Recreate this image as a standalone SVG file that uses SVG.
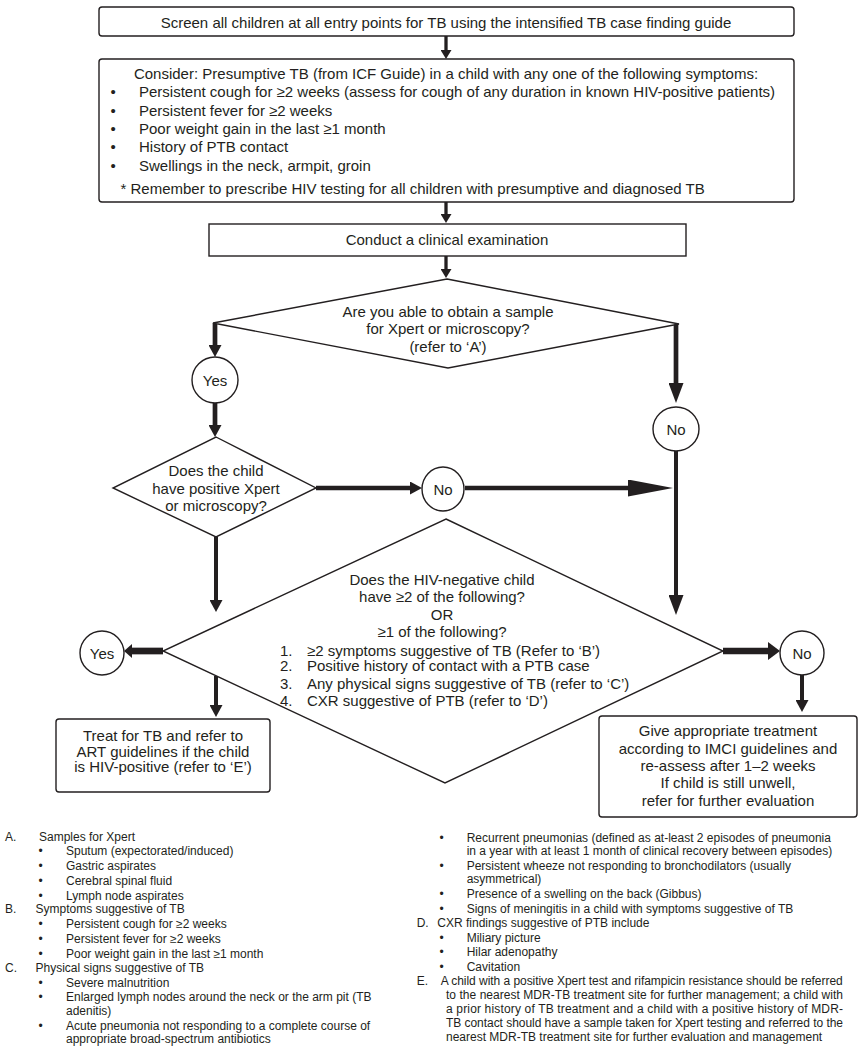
<svg xmlns="http://www.w3.org/2000/svg" width="865" height="1050" viewBox="0 0 865 1050">
<style>
.bx{fill:#fff;stroke:#231f20;stroke-width:1.4}
.t{font-family:"Liberation Sans",Arial,sans-serif;font-size:15px;fill:#231f20}
.m{text-anchor:middle}
.n{font-family:"Liberation Sans",Arial,sans-serif;font-size:12px;fill:#231f20}
.c{stroke:#231f20;fill:none}
.hd{fill:#231f20}
</style>
<defs>
<marker id="hA" markerUnits="userSpaceOnUse" markerWidth="9" markerHeight="11" refX="1" refY="5.5" orient="auto"><path class="hd" d="M0,0 L9,5.5 L0,11 Z"/></marker>
<marker id="hB" markerUnits="userSpaceOnUse" markerWidth="12" markerHeight="13" refX="1" refY="6.5" orient="auto"><path class="hd" d="M0,0 L12,6.5 L0,13 Z"/></marker>
<marker id="hC" markerUnits="userSpaceOnUse" markerWidth="20" markerHeight="15" refX="1" refY="7.5" orient="auto"><path class="hd" d="M0,0 L20,7.5 L0,15 Z"/></marker>
<marker id="hD" markerUnits="userSpaceOnUse" markerWidth="45" markerHeight="17" refX="1" refY="8.5" orient="auto"><path class="hd" d="M0,0 L45,8.5 L0,17 Z"/></marker>
<marker id="hE" markerUnits="userSpaceOnUse" markerWidth="8" markerHeight="14" refX="1" refY="7" orient="auto"><path class="hd" d="M0,0 L8,7 L0,14 Z"/></marker>
<marker id="hF" markerUnits="userSpaceOnUse" markerWidth="12" markerHeight="18" refX="1" refY="9" orient="auto"><path class="hd" d="M0,0 L12,9 L0,18 Z"/></marker>
</defs>
<rect width="865" height="1050" fill="#fff"/>

<g id="connectors">
<path class="c" stroke-width="3.3" marker-end="url(#hA)" d="M446,36 V51"/>
<path class="c" stroke-width="3.3" marker-end="url(#hA)" d="M446,202 V215"/>
<path class="c" stroke-width="3.3" marker-end="url(#hA)" d="M446,256 V270"/>
<path class="c" stroke-width="4.7" marker-end="url(#hB)" d="M215,323 V346"/>
<path class="c" stroke-width="4.7" marker-end="url(#hC)" d="M676,324 V384"/>
<path class="c" stroke-width="4.7" marker-end="url(#hB)" d="M215,403 V426"/>
<path class="c" stroke-width="4.7" marker-end="url(#hB)" d="M316,488 H411"/>
<path class="c" stroke-width="4.5" marker-end="url(#hD)" d="M465,488 H629"/>
<path class="c" stroke-width="4" marker-end="url(#hC)" d="M676,451 V596"/>
<path class="c" stroke-width="4" marker-end="url(#hB)" d="M216,537 V601"/>
<path class="c" stroke-width="6.7" marker-end="url(#hE)" d="M163,651 H131"/>
<path class="c" stroke-width="4" marker-end="url(#hB)" d="M216,676 V706"/>
<path class="c" stroke-width="6.7" marker-end="url(#hF)" d="M723,651 H769"/>
<path class="c" stroke-width="4" marker-end="url(#hB)" d="M802,675 V701"/>
</g>

<g id="screen">
<rect class="bx" x="99" y="7" width="695" height="29" rx="3"/>
<text class="t m" x="446" y="27.5">Screen all children at all entry points for TB using the intensified TB case finding guide</text>
</g>

<g id="consider">
<rect class="bx" x="99" y="59" width="695" height="143" rx="3"/>
<text class="t m" x="446" y="79">Consider: Presumptive TB (from ICF Guide) in a child with any one of the following symptoms:</text>
<text class="t" x="110.5" y="97">•</text><text class="t" x="139" y="97">Persistent cough for ≥2 weeks (assess for cough of any duration in known HIV-positive patients)</text>
<text class="t" x="110.5" y="115.5">•</text><text class="t" x="139" y="115.5">Persistent fever for ≥2 weeks</text>
<text class="t" x="110.5" y="133.5">•</text><text class="t" x="139" y="133.5">Poor weight gain in the last ≥1 month</text>
<text class="t" x="110.5" y="152">•</text><text class="t" x="139" y="152">History of PTB contact</text>
<text class="t" x="110.5" y="170.5">•</text><text class="t" x="139" y="170.5">Swellings in the neck, armpit, groin</text>
<text class="t" x="120.5" y="194">* Remember to prescribe HIV testing for all children with presumptive and diagnosed TB</text>
</g>

<g id="exam">
<rect class="bx" x="209" y="224" width="477" height="32"/>
<text class="t m" x="447" y="245">Conduct a clinical examination</text>
</g>

<g id="d-sample">
<polygon class="bx" points="447,279 679,324 448,368 213,323"/>
<text class="t m" x="448" y="316.5">Are you able to obtain a sample</text>
<text class="t m" x="448" y="334">for Xpert or microscopy?</text>
<text class="t m" x="448" y="351.5">(refer to ‘A’)</text>
</g>

<g id="yes1">
<ellipse class="bx" cx="215" cy="380" rx="23" ry="23"/>
<text class="t m" x="215" y="385.5">Yes</text>
</g>

<g id="no1">
<ellipse class="bx" cx="676" cy="429" rx="23" ry="22"/>
<text class="t m" x="676" y="434.5">No</text>
</g>

<g id="d-positive">
<polygon class="bx" points="216,437 316,488 216,537 113,488"/>
<text class="t m" x="216" y="476">Does the child</text>
<text class="t m" x="216" y="493.5">have positive Xpert</text>
<text class="t m" x="216" y="511">or microscopy?</text>
</g>

<g id="no-mid">
<ellipse class="bx" cx="443" cy="489" rx="21" ry="22"/>
<text class="t m" x="443" y="494.5">No</text>
</g>

<g id="d-hivneg">
<polygon class="bx" points="446,519 723,651 445,783 163,651"/>
<text class="t m" x="442" y="584.5">Does the HIV-negative child</text>
<text class="t m" x="442" y="602">have ≥2 of the following?</text>
<text class="t m" x="442" y="619.5">OR</text>
<text class="t m" x="442" y="637">≥1 of the following?</text>
<text class="t" x="280" y="655.5">1.</text><text class="t" x="307" y="655.5">≥2 symptoms suggestive of TB (Refer to ‘B’)</text>
<text class="t" x="280" y="671">2.</text><text class="t" x="307" y="671">Positive history of contact with a PTB case</text>
<text class="t" x="280" y="688.5">3.</text><text class="t" x="307" y="688.5">Any physical signs suggestive of TB (refer to ‘C’)</text>
<text class="t" x="280" y="706">4.</text><text class="t" x="307" y="706">CXR suggestive of PTB (refer to ‘D’)</text>
</g>

<g id="yes2">
<ellipse class="bx" cx="102" cy="653" rx="22" ry="22"/>
<text class="t m" x="102" y="658.5">Yes</text>
</g>

<g id="no2">
<ellipse class="bx" cx="802" cy="653" rx="22" ry="22"/>
<text class="t m" x="802" y="658.5">No</text>
</g>

<g id="treat">
<rect class="bx" x="56" y="719" width="214" height="73" rx="3"/>
<text class="t m" x="163" y="740.5">Treat for TB and refer to</text>
<text class="t m" x="163" y="756.5">ART guidelines if the child</text>
<text class="t m" x="163" y="772">is HIV-positive (refer to ‘E’)</text>
</g>

<g id="give">
<rect class="bx" x="599" y="716" width="258" height="101" rx="3"/>
<text class="t m" x="728" y="736">Give appropriate treatment</text>
<text class="t m" x="728" y="753.5">according to IMCI guidelines and</text>
<text class="t m" x="728" y="770.5">re-assess after 1–2 weeks</text>
<text class="t m" x="728" y="788">If child is still unwell,</text>
<text class="t m" x="728" y="805.5">refer for further evaluation</text>
</g>

<g id="notes">
<text class="n" x="5" y="841">A.</text><text class="n" x="39" y="841">Samples for Xpert</text>
<text class="n" x="38.5" y="855">•</text><text class="n" x="66" y="855">Sputum (expectorated/induced)</text>
<text class="n" x="38.5" y="870">•</text><text class="n" x="66" y="870">Gastric aspirates</text>
<text class="n" x="38.5" y="885">•</text><text class="n" x="66" y="885">Cerebral spinal fluid</text>
<text class="n" x="38.5" y="900">•</text><text class="n" x="66" y="900">Lymph node aspirates</text>
<text class="n" x="5" y="913">B.</text><text class="n" x="35.5" y="913">Symptoms suggestive of TB</text>
<text class="n" x="38.5" y="928">•</text><text class="n" x="66" y="928">Persistent cough for ≥2 weeks</text>
<text class="n" x="38.5" y="943">•</text><text class="n" x="66" y="943">Persistent fever for ≥2 weeks</text>
<text class="n" x="38.5" y="958">•</text><text class="n" x="66" y="958">Poor weight gain in the last ≥1 month</text>
<text class="n" x="5" y="972">C.</text><text class="n" x="35.5" y="972">Physical signs suggestive of TB</text>
<text class="n" x="38.5" y="986.5">•</text><text class="n" x="66" y="986.5">Severe malnutrition</text>
<text class="n" x="38.5" y="1001">•</text><text class="n" x="66" y="1001">Enlarged lymph nodes around the neck or the arm pit (TB</text>
<text class="n" x="66" y="1014.5">adenitis)</text>
<text class="n" x="38.5" y="1030">•</text><text class="n" x="66" y="1030">Acute pneumonia not responding to a complete course of</text>
<text class="n" x="66" y="1043">appropriate broad-spectrum antibiotics</text>

<text class="n" x="439.5" y="841.5">•</text><text class="n" x="466.7" y="841.5">Recurrent pneumonias (defined as at-least 2 episodes of pneumonia</text>
<text class="n" x="466.7" y="855">in a year with at least 1 month of clinical recovery between episodes)</text>
<text class="n" x="439.5" y="870">•</text><text class="n" x="466.7" y="870">Persistent wheeze not responding to bronchodilators (usually</text>
<text class="n" x="466.7" y="883">asymmetrical)</text>
<text class="n" x="439.5" y="898">•</text><text class="n" x="466.7" y="898">Presence of a swelling on the back (Gibbus)</text>
<text class="n" x="439.5" y="912.5">•</text><text class="n" x="466.7" y="912.5">Signs of meningitis in a child with symptoms suggestive of TB</text>
<text class="n" x="416.7" y="927">D.</text><text class="n" x="437.3" y="927">CXR findings suggestive of PTB include</text>
<text class="n" x="439.5" y="941.5">•</text><text class="n" x="466.7" y="941.5">Miliary picture</text>
<text class="n" x="439.5" y="956">•</text><text class="n" x="466.7" y="956">Hilar adenopathy</text>
<text class="n" x="439.5" y="971">•</text><text class="n" x="466.7" y="971">Cavitation</text>
<text class="n" x="416.7" y="985">E.</text><text class="n" x="440.7" y="985" textLength="402" lengthAdjust="spacing">A child with a positive Xpert test and rifampicin resistance should be referred</text>
<text class="n" x="446" y="998.5" textLength="397" lengthAdjust="spacing">to the nearest MDR-TB treatment site for further management; a child with</text>
<text class="n" x="446" y="1013" textLength="397" lengthAdjust="spacing">a prior history of TB treatment and a child with a positive history of MDR-</text>
<text class="n" x="446" y="1027" textLength="397" lengthAdjust="spacing">TB contact should have a sample taken for Xpert testing and referred to the</text>
<text class="n" x="446" y="1041">nearest MDR-TB treatment site for further evaluation and management</text>
</g>
</svg>
